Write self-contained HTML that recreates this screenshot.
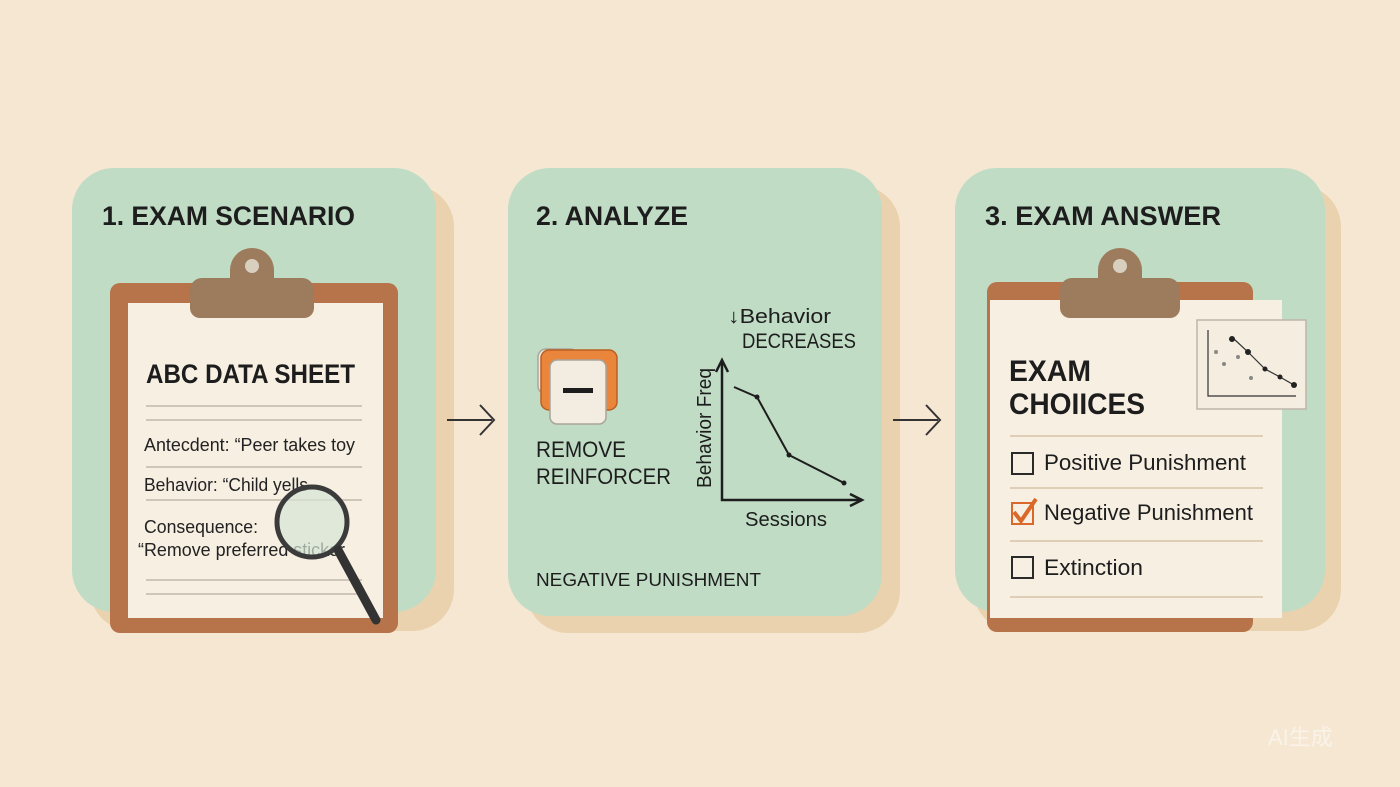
<!DOCTYPE html>
<html><head><meta charset="utf-8"><style>
html,body{margin:0;padding:0;background:#f5e7d2;}
svg{display:block;font-family:"Liberation Sans",sans-serif;}
</style></head><body>
<svg width="1400" height="787" viewBox="0 0 1400 787">
<rect width="1400" height="787" fill="#f5e7d2"/>
<!-- panel shadows -->
<rect x="90" y="185" width="364" height="446" rx="42" fill="#ebd2ae"/>
<rect x="526" y="185" width="374" height="448" rx="42" fill="#ebd2ae"/>
<rect x="973" y="185" width="368" height="446" rx="42" fill="#ebd2ae"/>
<!-- panels -->
<rect x="72" y="168" width="364" height="444" rx="42" fill="#c0dcc5"/>
<rect x="508" y="168" width="374" height="448" rx="42" fill="#c0dcc5"/>
<rect x="955" y="168" width="370" height="444" rx="42" fill="#c0dcc5"/>
<g font-weight="bold" font-size="27" fill="#1d1d1d" lengthAdjust="spacingAndGlyphs">
<text x="102" y="225" textLength="253" lengthAdjust="spacingAndGlyphs">1. EXAM SCENARIO</text>
<text x="536" y="225" textLength="152" lengthAdjust="spacingAndGlyphs">2. ANALYZE</text>
<text x="985" y="225" textLength="236" lengthAdjust="spacingAndGlyphs">3. EXAM ANSWER</text>
</g>
<!-- arrows -->
<g stroke="#333" stroke-width="2" fill="none">
<path d="M447 420H492M480 405L494 420L480 435"/>
<path d="M893 420H938M926 405L940 420L926 435"/>
</g>
<!-- clipboard 1 -->
<rect x="110" y="283" width="288" height="350" rx="10" fill="#b7744a"/>
<rect x="128" y="303" width="255" height="315" fill="#f6efe2"/>
<path d="M230 270a22 22 0 0 1 44 0v8h28a12 12 0 0 1 12 12v18a10 10 0 0 1 -10 10h-104a10 10 0 0 1 -10 -10v-18a12 12 0 0 1 12 -12h28z" fill="#9d7b5d"/>
<circle cx="252" cy="266" r="7" fill="#d8cfbf"/>
<text x="146" y="383" font-size="27" font-weight="bold" fill="#1d1d1d" textLength="209" lengthAdjust="spacingAndGlyphs">ABC DATA SHEET</text>
<g stroke="#cfc6b8" stroke-width="2">
<path d="M146 406H362M146 420H362M146 467H362M146 500H362M146 580H362M146 594H362"/>
</g>
<g font-size="18" fill="#222">
<text x="144" y="451" textLength="211" lengthAdjust="spacingAndGlyphs">Antecdent: “Peer takes toy</text>
<text x="144" y="491" textLength="164" lengthAdjust="spacingAndGlyphs">Behavior: “Child yells</text>
<text x="144" y="533" textLength="114" lengthAdjust="spacingAndGlyphs">Consequence:</text>
<text x="138" y="556" textLength="207" lengthAdjust="spacingAndGlyphs">“Remove preferred sticker</text>
</g>
<circle cx="312" cy="522" r="35" fill="#d6e6d6" fill-opacity="0.7" stroke="#3b3b3b" stroke-width="5"/>
<path d="M338 550L376 620" stroke="#333" stroke-width="9" stroke-linecap="round"/>
<!-- panel 2 icon -->
<rect x="538" y="349" width="40" height="45" rx="8" fill="#f1ece2" stroke="#a9a59c" stroke-width="1.5"/>
<rect x="541" y="350" width="76" height="60" rx="8" fill="#e9863c" stroke="#bb5f22" stroke-width="1.5"/>
<rect x="550" y="360" width="56" height="64" rx="7" fill="#f3ece0" stroke="#aaa49a" stroke-width="1.5"/>
<rect x="563" y="388" width="30" height="5" fill="#1d1d1d"/>
<g font-size="22" fill="#1d1d1d">
<text x="536" y="457" textLength="90" lengthAdjust="spacingAndGlyphs">REMOVE</text>
<text x="536" y="484" textLength="135" lengthAdjust="spacingAndGlyphs">REINFORCER</text>
<text x="728" y="323" font-size="20" textLength="103" lengthAdjust="spacingAndGlyphs">↓Behavior</text>
<text x="742" y="348" font-size="21" textLength="114" lengthAdjust="spacingAndGlyphs">DECREASES</text>
<text x="745" y="526" font-size="20" textLength="82" lengthAdjust="spacingAndGlyphs">Sessions</text>
<text transform="translate(711,488) rotate(-90)" font-size="20" textLength="120" lengthAdjust="spacingAndGlyphs">Behavior Freq</text>
</g>
<g stroke="#1d1d1d" stroke-width="2.5" fill="none">
<path d="M722 362V500H860"/>
<path d="M716 372L722 360L728 372M850 494L862 500L850 506"/>
<path d="M734 387L757 397L789 455L844 483" stroke-width="2"/>
</g>
<g fill="#1d1d1d"><circle cx="757" cy="397" r="2.5"/><circle cx="789" cy="455" r="2.5"/><circle cx="844" cy="483" r="2.5"/></g>
<text x="536" y="586" font-size="18" fill="#1d1d1d" textLength="225" lengthAdjust="spacingAndGlyphs">NEGATIVE PUNISHMENT</text>
<!-- clipboard 3 -->
<rect x="987" y="282" width="266" height="350" rx="10" fill="#b7744a"/>
<rect x="990" y="300" width="292" height="318" fill="#f6efe2"/>
<path d="M1098 270a22 22 0 0 1 44 0v8h26a12 12 0 0 1 12 12v18a10 10 0 0 1 -10 10h-100a10 10 0 0 1 -10 -10v-18a12 12 0 0 1 12 -12h26z" fill="#9d7b5d"/>
<circle cx="1120" cy="266" r="7" fill="#d8cfbf"/>
<g font-size="30" font-weight="bold" fill="#1d1d1d">
<text x="1009" y="381" textLength="82" lengthAdjust="spacingAndGlyphs">EXAM</text>
<text x="1009" y="414" textLength="136" lengthAdjust="spacingAndGlyphs">CHOIICES</text>
</g>
<g stroke="#e0cdb6" stroke-width="2"><path d="M1010 436H1263M1010 488H1263M1010 541H1263M1010 597H1263"/></g>
<g fill="none" stroke="#2a2a2a" stroke-width="2">
<rect x="1012" y="453" width="21" height="21"/>
<rect x="1012" y="557" width="21" height="21"/>
</g>
<rect x="1012" y="503" width="21" height="21" fill="none" stroke="#d9682a" stroke-width="2"/>
<path d="M1014 512L1021 521L1036 499" fill="none" stroke="#d9682a" stroke-width="4"/>
<g font-size="22" fill="#1d1d1d">
<text x="1044" y="470" textLength="202" lengthAdjust="spacingAndGlyphs">Positive Punishment</text>
<text x="1044" y="520" textLength="209" lengthAdjust="spacingAndGlyphs">Negative Punishment</text>
<text x="1044" y="575" textLength="99" lengthAdjust="spacingAndGlyphs">Extinction</text>
</g>
<!-- inset chart -->
<rect x="1197" y="320" width="109" height="89" fill="#f4ede0" stroke="#bdb5a8" stroke-width="1.5"/>
<g stroke="#333" stroke-width="1.2" fill="none">
<path d="M1208 330V396H1296"/>
<path d="M1234 339L1248 352L1265 369L1280 377L1294 385"/>
</g>
<g fill="#222"><circle cx="1232" cy="339" r="3"/><circle cx="1248" cy="352" r="3"/><circle cx="1265" cy="369" r="2.5"/><circle cx="1280" cy="377" r="2.5"/><circle cx="1294" cy="385" r="3"/></g>
<g fill="#888"><circle cx="1216" cy="352" r="2"/><circle cx="1238" cy="357" r="2"/><circle cx="1224" cy="364" r="2"/><circle cx="1251" cy="378" r="2"/></g>
<text x="1268" y="745" font-size="22" fill="#ffffff" fill-opacity="0.5">AI生成</text>
</svg>
</body></html>
